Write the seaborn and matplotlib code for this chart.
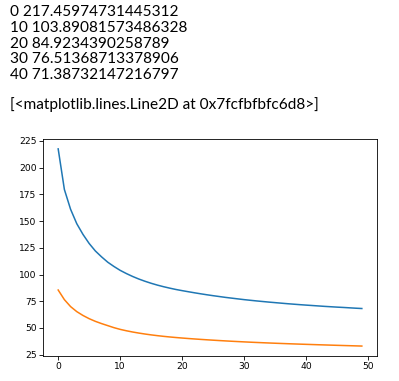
import matplotlib
matplotlib.use("Agg")
import matplotlib.pyplot as plt
import seaborn as sns
import numpy as np
import pandas as pd

epochs = list(range(50))
train_loss = [217.46, 179.5, 161.0, 147.5, 137.5, 129.0, 122.0, 116.5, 111.5, 107.5,
              103.89, 100.9, 98.2, 95.8, 93.7, 91.8, 90.1, 88.6, 87.25, 86.0,
              84.92, 83.9, 82.9, 81.95, 81.05, 80.2, 79.4, 78.6, 77.9, 77.2,
              76.51, 75.9, 75.3, 74.75, 74.2, 73.7, 73.2, 72.7, 72.25, 71.8,
              71.39, 71.0, 70.6, 70.2, 69.85, 69.5, 69.2, 68.85, 68.5, 68.2]
val_loss = [85.5, 76.5, 70.0, 65.3, 61.7, 58.7, 56.2, 54.1, 52.2, 50.3,
            48.7, 47.4, 46.25, 45.25, 44.35, 43.55, 42.83, 42.18, 41.6, 41.08,
            40.6, 40.15, 39.73, 39.33, 38.95, 38.59, 38.24, 37.91, 37.59, 37.29,
            37.0, 36.72, 36.46, 36.21, 35.97, 35.74, 35.52, 35.3, 35.09, 34.89,
            34.7, 34.51, 34.32, 34.14, 33.96, 33.78, 33.61, 33.44, 33.27, 33.1]
printed_lines = [
    "0 217.45974731445312",
    "10 103.89081573486328",
    "20 84.9234390258789",
    "30 76.51368713378906",
    "40 71.38732147216797",
]
repr_line = "[<matplotlib.lines.Line2D at 0x7fcfbfbfc6d8>]"

W, H = 399, 381
fig = plt.figure(figsize=(W / 100, H / 100), dpi=100)

def px(x, y):
    return x / W, 1 - y / H

baselines = [16.5, 32.2, 47.8, 63.4, 79.0]
for txt, b in zip(printed_lines, baselines):
    fig.text(*px(10, b), txt, fontsize=11.1, family="Lato", va="baseline", ha="left", color="black")
fig.text(*px(10, 108.5), repr_line, fontsize=11.1, family="Lato", va="baseline", ha="left", color="black")

left, right, top, bottom = 43, 377, 139, 356
ax = fig.add_axes([left / W, 1 - bottom / H, (right - left) / W, (bottom - top) / H])

df = pd.DataFrame({"epoch": epochs, "train": train_loss, "val": val_loss})
pal = sns.color_palette("tab10")
sns.lineplot(data=df, x="epoch", y="train", ax=ax, color=pal[0], linewidth=1.1)
sns.lineplot(data=df, x="epoch", y="val", ax=ax, color=pal[1], linewidth=1.1)
ax.set_xlabel("")
ax.set_ylabel("")
ax.set_xticks([0, 10, 20, 30, 40, 50])
ax.set_yticks([25, 50, 75, 100, 125, 150, 175, 200, 225])
ax.set_xlim(-2.45, 51.45)
ax.set_ylim(23.8, 226.7)
ax.tick_params(labelsize=6.6, length=2.6, width=0.6, pad=2.0)
for s in ax.spines.values():
    s.set_linewidth(0.6)

fig.savefig("out.png", dpi=100)
